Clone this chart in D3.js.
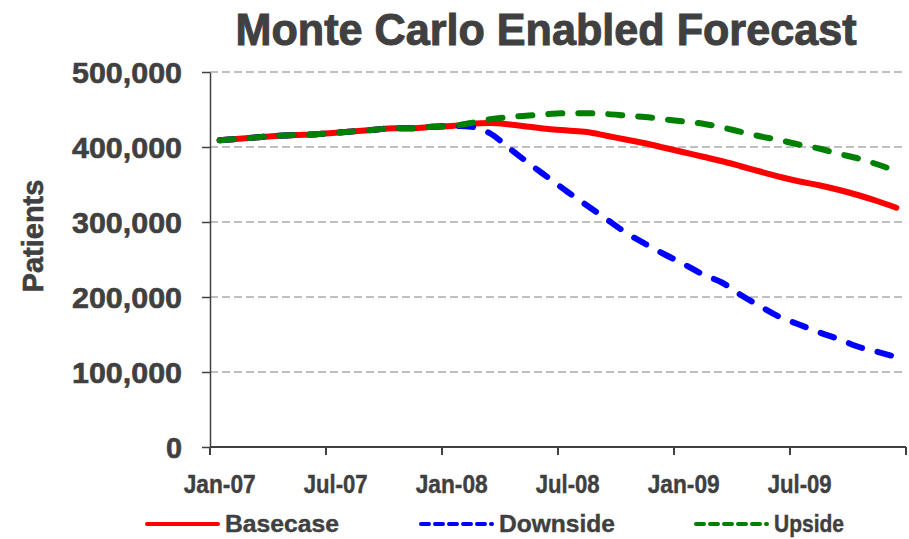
<!DOCTYPE html>
<html>
<head>
<meta charset="utf-8">
<script src="https://cdn.jsdelivr.net/npm/d3@7"></script>
<style>
  html, body { margin: 0; padding: 0; background: #fff; }
  svg { display: block; }
  .wide { font-family: "Liberation Sans", Arial, sans-serif; font-weight: bold; fill: #404040; stroke: #404040; stroke-width: 0.6px; }
  .narrow { font-family: "Liberation Sans Narrow", "Arial Narrow", "Liberation Sans", sans-serif; font-weight: bold; fill: #404040; stroke: #404040; stroke-width: 0.4px; }
</style>
</head>
<body>
<svg id="chart" width="909" height="539"></svg>
<script>
// Monthly categories, Jan-07 through Dec-09
const months = [
  "Jan-07","Feb-07","Mar-07","Apr-07","May-07","Jun-07","Jul-07","Aug-07","Sep-07","Oct-07","Nov-07","Dec-07",
  "Jan-08","Feb-08","Mar-08","Apr-08","May-08","Jun-08","Jul-08","Aug-08","Sep-08","Oct-08","Nov-08","Dec-08",
  "Jan-09","Feb-09","Mar-09","Apr-09","May-09","Jun-09","Jul-09","Aug-09","Sep-09","Oct-09","Nov-09","Dec-09"
];

// Patient counts per scenario
const basecase = [
  409000, 411000, 413000, 415000, 416000, 417000, 419000, 421000, 423000, 425000, 425000, 427000,
  428000, 431000, 432000, 430000, 427000, 424000, 422000, 420000, 415000, 410000, 405000, 399000,
  393000, 387000, 381000, 374000, 367000, 360000, 354000, 349000, 343000, 336000, 328000, 319000
];
const downside = [
  409000, 411000, 413000, 415000, 416000, 417000, 419000, 421000, 423000, 425000, 425000, 427000,
  428000, 427000, 418000, 398000, 378000, 359000, 340000, 322000, 304000, 286000, 271000, 257000,
  244000, 230000, 219000, 202000, 187000, 173000, 163000, 153000, 144000, 134000, 127000, 120000
];
const upside = [
  409000, 411000, 413000, 415000, 416000, 417000, 419000, 421000, 423000, 425000, 425000, 427000,
  428000, 432000, 437000, 440000, 442000, 444000, 445000, 445000, 444000, 442000, 440000, 437000,
  434000, 431000, 426000, 420000, 414000, 409000, 403000, 398000, 391000, 385000, 377000, 368000
];

const yTicks = [0, 100000, 200000, 300000, 400000, 500000];
const xTickLabels = ["Jan-07", "Jul-07", "Jan-08", "Jul-08", "Jan-09", "Jul-09"];

const seriesNames = ["Basecase", "Downside", "Upside"];
const seriesColors = ["#ff0000", "#0000ff", "#008000"];

const svg = d3.select("#chart");
const plot = { left: 210, right: 906, top: 72, bottom: 447 };

const x = d3.scaleBand().domain(months).range([plot.left, plot.right]).padding(0);
const y = d3.scaleLinear().domain([0, 500000]).range([plot.bottom, plot.top]);
const cx = m => x(m) + x.bandwidth() / 2;

// Title
svg.append("text").attr("class", "wide")
  .attr("x", 546).attr("y", 45).attr("text-anchor", "middle")
  .attr("font-size", 44).attr("textLength", 621).attr("lengthAdjust", "spacingAndGlyphs")
  .style("stroke-width", "1px")
  .text("Monte Carlo Enabled Forecast");

// Horizontal dashed gridlines
svg.append("g").selectAll("line").data(yTicks.filter(v => v > 0)).join("line")
  .attr("x1", plot.left).attr("x2", plot.right)
  .attr("y1", d => y(d)).attr("y2", d => y(d))
  .attr("stroke", "#c0c0c0").attr("stroke-width", 2).attr("stroke-dasharray", "8,4");

// Y axis
const yAxis = svg.append("g").attr("transform", `translate(${plot.left},0)`)
  .call(d3.axisLeft(y).tickValues(yTicks).tickSize(8).tickSizeOuter(0).tickFormat(d3.format(",")));
yAxis.select(".domain").attr("stroke", "#404040").attr("stroke-width", 1.5);
yAxis.selectAll(".tick line").attr("stroke", "#404040").attr("stroke-width", 1.5);
yAxis.selectAll(".tick text")
  .attr("class", "wide").attr("x", -28).attr("dy", "0.36em")
  .attr("font-size", 30)
  .each(function (d) {
    const len = d3.format(",")(d).length;
    d3.select(this).attr("textLength", len === 7 ? 110 : 16).attr("lengthAdjust", "spacingAndGlyphs");
  });

// Y axis title
svg.append("text").attr("class", "wide")
  .attr("transform", "translate(43,236) rotate(-90)")
  .attr("text-anchor", "middle").attr("font-size", 29)
  .text("Patients");

// X axis: ticks on category boundaries every six months
const boundaryIdx = d3.range(0, months.length + 1, 6);
const xAxisG = svg.append("g");
xAxisG.append("line")
  .attr("x1", plot.left).attr("x2", plot.right)
  .attr("y1", plot.bottom).attr("y2", plot.bottom)
  .attr("stroke", "#404040").attr("stroke-width", 2);
xAxisG.selectAll("line.tick").data(boundaryIdx).join("line").attr("class", "tick")
  .attr("x1", i => i < months.length ? x(months[i]) : plot.right)
  .attr("x2", i => i < months.length ? x(months[i]) : plot.right)
  .attr("y1", plot.bottom).attr("y2", plot.bottom + 8)
  .attr("stroke", "#404040").attr("stroke-width", 2);
xAxisG.selectAll("text").data(xTickLabels).join("text")
  .attr("class", "narrow")
  .attr("x", d => cx(d)).attr("y", 493).attr("text-anchor", "middle")
  .attr("font-size", 25)
  .attr("textLength", d => d.startsWith("Jul") ? 64 : 72).attr("lengthAdjust", "spacingAndGlyphs")
  .text(d => d);

// Series lines
const seriesData = [basecase, downside, upside];
const line = d3.line().x((d, i) => cx(months[i])).y(d => y(d)).curve(d3.curveMonotoneX);
const dashes = [null, "14,16", "14,16"];
svg.append("g").selectAll("path").data(seriesData).join("path")
  .attr("d", d => line(d))
  .attr("fill", "none")
  .attr("stroke", (d, i) => seriesColors[i])
  .attr("stroke-width", 6)
  .attr("stroke-linecap", "round")
  .attr("stroke-linejoin", "round")
  .attr("stroke-dasharray", (d, i) => dashes[i]);

// Legend
const legendX = [147, 421, 696];
const legendTextW = [114, 116, 70];
const legend = svg.append("g").selectAll("g").data(seriesNames).join("g")
  .attr("transform", (d, i) => `translate(${legendX[i]},524)`);
legend.append("line")
  .attr("x1", 0).attr("x2", 71).attr("y1", 0).attr("y2", 0)
  .attr("stroke", (d, i) => seriesColors[i]).attr("stroke-width", 4)
  .attr("stroke-dasharray", (d, i) => i === 0 ? null : "8,6")
  .attr("stroke-linecap", "round");
legend.append("text").attr("class", "narrow")
  .attr("x", 78).attr("y", 8).attr("font-size", 24)
  .attr("textLength", (d, i) => legendTextW[i]).attr("lengthAdjust", "spacingAndGlyphs")
  .text(d => d);
</script>
</body>
</html>
